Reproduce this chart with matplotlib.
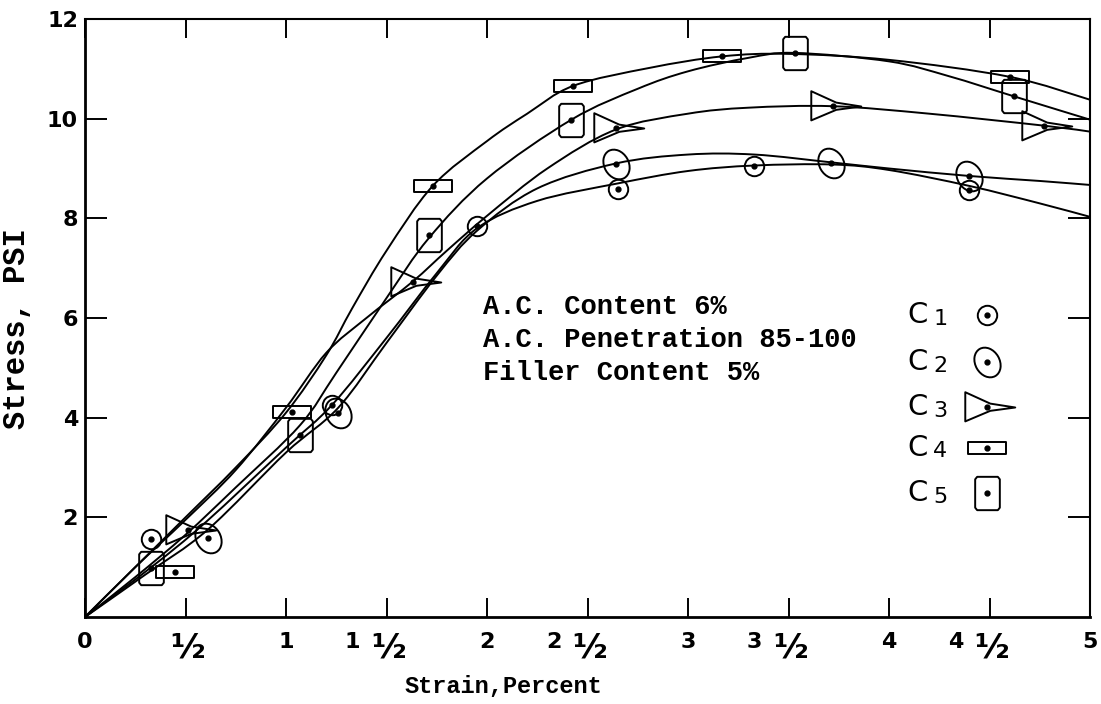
import numpy as np
import matplotlib
matplotlib.use("Agg")
import matplotlib.pyplot as plt
from matplotlib.path import Path
from matplotlib.patches import PathPatch
from matplotlib.transforms import Affine2D


# curve traces (strain %, stress psi)
c1_x = [0, 0.33, 0.6, 1.0, 1.23, 1.5, 1.75, 1.95, 2.25, 2.65, 3.0, 3.33, 3.72, 4.0, 4.4, 4.75, 5.0]
c1_y = [0, 1.0, 1.9, 3.4, 4.26, 5.6, 6.9, 7.8, 8.35, 8.7, 8.95, 9.06, 9.08, 8.97, 8.65, 8.3, 8.03]
c2_x = [0, 0.3, 0.61, 1.0, 1.26, 1.5, 1.75, 1.95, 2.25, 2.64, 3.0, 3.33, 3.72, 4.0, 4.4, 4.75, 5.0]
c2_y = [0, 0.85, 1.75, 3.3, 4.2, 5.5, 6.85, 7.75, 8.6, 9.1, 9.28, 9.28, 9.12, 9.0, 8.85, 8.75, 8.67]
c3_x = [0, 0.25, 0.5, 0.75, 1.0, 1.2, 1.4, 1.63, 1.8, 2.0, 2.3, 2.64, 3.0, 3.3, 3.72, 4.2, 4.77, 5.0]
c3_y = [0, 1.0, 1.95, 2.95, 4.2, 5.3, 6.0, 6.73, 7.35, 8.05, 9.0, 9.78, 10.1, 10.22, 10.25, 10.1, 9.86, 9.74]
c4_x = [0, 0.25, 0.5, 0.75, 1.0, 1.2, 1.33, 1.5, 1.73, 2.0, 2.2, 2.43, 2.81, 3.17, 3.5, 4.0, 4.6, 5.0]
c4_y = [0, 1.0, 2.0, 3.0, 4.1, 5.25, 6.2, 7.35, 8.65, 9.55, 10.1, 10.66, 11.02, 11.25, 11.3, 11.18, 10.84, 10.38]
c5_x = [0, 0.25, 0.5, 0.75, 1.07, 1.25, 1.5, 1.71, 2.0, 2.42, 2.75, 3.0, 3.3, 3.53, 4.0, 4.3, 4.62, 5.0]
c5_y = [0, 0.8, 1.65, 2.6, 3.85, 4.9, 6.4, 7.6, 8.8, 9.98, 10.6, 10.95, 11.22, 11.32, 11.15, 10.85, 10.45, 9.98]

# plotted test points
p1_x = [0.33, 1.23, 1.95, 2.65, 3.33, 4.40]
p1_y = [1.57, 4.26, 7.85, 8.59, 9.06, 8.57]
p2_x = [0.61, 1.26, 2.64, 3.71, 4.40]
p2_y = [1.59, 4.10, 9.10, 9.12, 8.84]
p3_x = [0.51, 1.63, 2.64, 3.72, 4.77]
p3_y = [1.75, 6.73, 9.82, 10.25, 9.86]
p4_x = [0.45, 1.03, 1.73, 2.43, 3.17, 4.60]
p4_y = [0.90, 4.12, 8.65, 10.66, 11.25, 10.84]
p5_x = [0.33, 1.07, 1.71, 2.42, 3.53, 4.62]
p5_y = [0.98, 3.65, 7.67, 9.98, 11.32, 10.45]

x_ticks = [0, 0.5, 1, 1.5, 2, 2.5, 3, 3.5, 4, 4.5, 5]
x_whole = ["0", "", "1", "1", "2", "2", "3", "3", "4", "4", "5"]
x_half = [False, True, False, True, False, True, False, True, False, True, False]
y_ticks = [2, 4, 6, 8, 10, 12]
legend_names = ["1", "2", "3", "4", "5"]
notes = ["A.C. Content 6%", "A.C. Penetration 85-100", "Filler Content 5%"]


def smooth(xs, ys):
    # catmull-rom through the traced points, as bezier segments
    pts = np.column_stack([xs, ys]).astype(float)
    verts = [pts[0]]
    codes = [Path.MOVETO]
    n = len(pts)
    for i in range(n - 1):
        p0 = pts[i - 1] if i > 0 else pts[i]
        p1 = pts[i]
        p2 = pts[i + 1]
        p3 = pts[i + 2] if i + 2 < n else pts[i + 1]
        verts += [p1 + (p2 - p0) / 6, p2 - (p3 - p1) / 6, p2]
        codes += [Path.CURVE4] * 3
    return Path(verts, codes)


# marker shapes
m_circle = Path.unit_circle()
m_ellipse = Path.unit_circle().transformed(Affine2D().scale(0.78, 1.0).rotate_deg(30))
m_tri = Path([(-0.8, 0.55), (0.1, 0.14), (1.0, 0.0), (0.1, -0.12), (-0.8, -0.5), (-0.8, 0.55)],
             [Path.MOVETO] + [Path.LINETO] * 4 + [Path.CLOSEPOLY])
m_rect = Path([(-1, -0.3), (1, -0.3), (1, 0.3), (-1, 0.3), (-1, -0.3)],
              [Path.MOVETO] + [Path.LINETO] * 3 + [Path.CLOSEPOLY])
m_sq = Path([(-0.62, -1), (0.62, -1), (0.74, -0.85), (0.74, 0.85), (0.62, 1), (-0.62, 1),
             (-0.74, 0.85), (-0.74, -0.85), (-0.62, -1)],
            [Path.MOVETO] + [Path.LINETO] * 7 + [Path.CLOSEPOLY])

markers = [(m_circle, 14), (m_ellipse, 22), (m_tri, 40), (m_rect, 27), (m_sq, 24)]
curves = [(c1_x, c1_y), (c2_x, c2_y), (c3_x, c3_y), (c4_x, c4_y), (c5_x, c5_y)]
points = [(p1_x, p1_y), (p2_x, p2_y), (p3_x, p3_y), (p4_x, p4_y), (p5_x, p5_y)]

fig = plt.figure(figsize=(11.01, 7.04), dpi=100)
ax = fig.add_axes([85 / 1101, 1 - 617 / 704, 1005 / 1101, 598 / 704])

for (cx, cy) in curves:
    ax.add_patch(PathPatch(smooth(cx, cy), fill=False, lw=1.4, color="black", capstyle="round"))

for (px, py), (mk, ms) in zip(points, markers):
    ax.plot(px, py, ls="none", marker=mk, ms=ms, mfc="none", mec="black", mew=1.4)
    ax.plot(px, py, ls="none", marker="o", ms=3.5, color="black")

ax.set_xlim(0, 5)
ax.set_ylim(0, 12)

hand = dict(family="DejaVu Sans", fontweight="bold")
ax.set_xticks(x_ticks)
ax.set_xticklabels([])
ax.set_yticks(y_ticks)
ax.set_yticklabels([str(v) for v in y_ticks], fontsize=16, **hand)
ax.tick_params(axis="x", direction="in", length=14, width=1.4, top=True)
ax.tick_params(axis="y", direction="in", length=16, width=1.4, pad=5, right=True)
for side in ["left", "bottom"]:
    ax.spines[side].set_linewidth(2)
for side in ["top", "right"]:
    ax.spines[side].set_linewidth(1.5)

# x tick labels, lettered by hand as whole number plus a big half
xt = ax.get_xaxis_transform()
for xv, whole, is_half in zip(x_ticks, x_whole, x_half):
    if is_half:
        ax.annotate("½", (xv, 0), xycoords=xt, xytext=(2, -14), textcoords="offset pixels",
                    ha="center", va="top", fontsize=24, **hand)
        if whole:
            ax.annotate(whole, (xv, 0), xycoords=xt, xytext=(-34, -15), textcoords="offset pixels",
                        ha="center", va="top", fontsize=16, **hand)
    else:
        ax.annotate(whole, (xv, 0), xycoords=xt, xytext=(0, -15), textcoords="offset pixels",
                    ha="center", va="top", fontsize=16, **hand)

mono = dict(family="Liberation Mono", fontweight="bold")
ax.set_xlabel("Strain,Percent", fontsize=17, **mono)
ax.xaxis.set_label_coords(0.416, -0.097)
ax.set_ylabel("Stress, PSI", fontsize=22, **mono)
ax.yaxis.set_label_coords(-0.053, 0.482)

for i, line in enumerate(notes):
    ax.text(0.396, 0.518 - i * 0.055, line, transform=ax.transAxes, fontsize=19.5,
            ha="left", va="center", **mono)

# hand drawn key
key_y = [0.505, 0.426, 0.351, 0.283, 0.207]
for name, ky, (mk, ms) in zip(legend_names, key_y, markers):
    ax.text(0.818, ky, "C", transform=ax.transAxes, fontsize=21, ha="left", va="center")
    ax.text(0.844, ky - 0.006, name, transform=ax.transAxes, fontsize=16, ha="left", va="center")
    ax.plot([0.8975], [ky], transform=ax.transAxes, ls="none", marker=mk, ms=ms,
            mfc="none", mec="black", mew=1.4, clip_on=False)
    ax.plot([0.8975], [ky], transform=ax.transAxes, ls="none", marker="o", ms=3.5,
            color="black", clip_on=False)

fig.savefig("out.png", dpi=100)
